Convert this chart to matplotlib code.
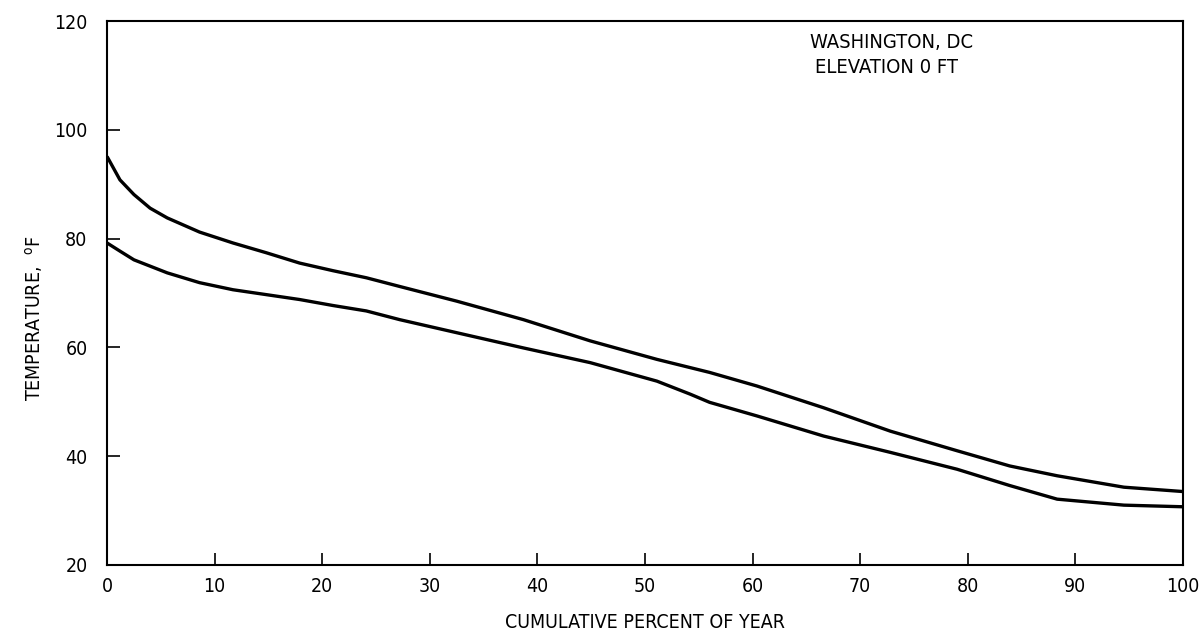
import matplotlib
matplotlib.use("Agg")
import matplotlib.pyplot as plt

# Cumulative percent of year and corresponding temperatures (deg F)
upper_pct = [0, 1.2, 2.5, 4.0, 5.6, 8.6, 11.7, 14.8, 17.9, 21.0, 24.1, 27.2, 32.5,
             38.7, 44.9, 51.1, 56.0, 60.4, 66.6, 72.8, 79.0, 83.9, 88.3, 94.5, 100]
upper_temp = [95.1, 90.8, 88.1, 85.6, 83.8, 81.2, 79.2, 77.4, 75.5, 74.1, 72.8, 71.2, 68.5,
              65.1, 61.2, 57.8, 55.4, 52.9, 48.9, 44.6, 41.0, 38.2, 36.4, 34.3, 33.5]

lower_pct = [0, 1.2, 2.5, 5.6, 8.6, 11.7, 14.8, 17.9, 21.0, 24.1, 27.2, 32.5, 38.7,
             44.9, 51.1, 54.2, 56.0, 60.4, 66.6, 72.8, 79.0, 83.9, 88.3, 94.5, 100]
lower_temp = [79.2, 77.7, 76.1, 73.7, 71.9, 70.6, 69.7, 68.8, 67.7, 66.7, 65.1, 62.7, 59.9,
              57.2, 53.8, 51.4, 49.9, 47.4, 43.7, 40.7, 37.6, 34.6, 32.1, 31.0, 30.7]

x_ticks = [0, 10, 20, 30, 40, 50, 60, 70, 80, 90, 100]
y_ticks = [20, 40, 60, 80, 100, 120]

plt.rcParams["font.family"] = ["DejaVu Sans"]
plt.rcParams["font.stretch"] = "condensed"

fig = plt.figure(figsize=(12.04, 6.41), dpi=100)
ax = fig.add_axes([0.0889, 0.1186, 0.8937, 0.8486])

for xs, ys in ((upper_pct, upper_temp), (lower_pct, lower_temp)):
    ax.plot(xs, ys, color="black", lw=2.4, solid_joinstyle="round",
            solid_capstyle="butt")

ax.set_xlim(0, 100)
ax.set_ylim(20, 120)
ax.set_xticks(x_ticks)
ax.set_yticks(y_ticks)
ax.tick_params(direction="in", length=9, width=1.2, labelsize=14, pad=9)
ax.tick_params(axis="y", pad=14)
for s in ax.spines.values():
    s.set_linewidth(1.5)

ax.set_xlabel("CUMULATIVE PERCENT OF YEAR", fontsize=14, labelpad=12)
ax.set_ylabel("TEMPERATURE,  $^{\\mathrm{o}}$F", fontsize=14)
ax.yaxis.set_label_coords(-0.058, 0.454)

ax.text(65.3, 116, "WASHINGTON, DC", fontsize=14.5, va="center", ha="left")
ax.text(65.8, 111.4, "ELEVATION 0 FT", fontsize=14.5, va="center", ha="left")

fig.savefig("out.png", dpi=100)
